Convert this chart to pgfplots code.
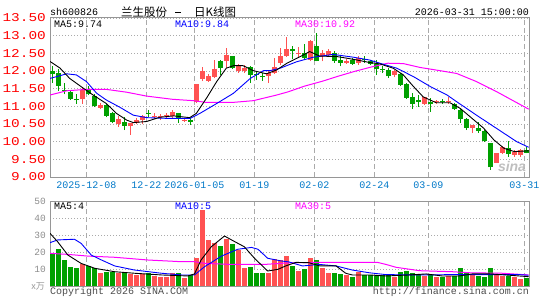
\documentclass[border=0pt]{standalone}
\usepackage{pgfplots}
\pgfplotsset{compat=1.18}
\usepackage{pgfplotstable}
\usepackage{fontspec}
\setmainfont{Liberation Sans}
\newfontfamily\monoW[FakeStretch=1.2]{Liberation Mono}
\newfontfamily\mono{Liberation Mono}
\newfontfamily\cjk{Noto Sans CJK SC}
\definecolor{kred}{RGB}{255,82,82}
\definecolor{kgreen}{RGB}{0,160,0}
\definecolor{mablue}{RGB}{0,0,255}
\definecolor{mamag}{RGB}{255,0,255}
\definecolor{xlab}{RGB}{0,120,200}
\definecolor{gridc}{RGB}{170,170,170}
\definecolor{framec}{RGB}{150,150,150}

\pgfplotstableread{
i o h l c u v
0 12.00 12.14 11.67 11.92 0 19.2
1 11.95 12.05 11.43 11.58 0 21.8
2 11.46 11.67 11.34 11.42 0 15.3
3 11.41 11.44 11.18 11.21 0 11.4
4 11.21 11.34 11.07 11.17 0 10.4
5 11.20 11.51 11.07 11.46 1 12.9
6 11.48 11.58 11.32 11.36 0 12.0
7 11.30 11.36 10.99 11.02 0 10.8
8 10.96 11.09 10.92 11.04 1 7.8
9 11.04 11.07 10.69 10.73 0 8.4
10 10.80 10.85 10.52 10.56 0 8.4
11 10.49 10.74 10.42 10.63 1 7.8
12 10.57 10.69 10.33 10.45 0 8.4
13 10.44 10.54 10.19 10.52 1 7.1
14 10.54 10.68 10.49 10.60 1 6.5
15 10.61 10.75 10.49 10.72 1 7.1
16 10.79 10.89 10.69 10.77 0 7.5
17 10.71 10.81 10.65 10.74 1 5.9
18 10.69 10.79 10.61 10.73 1 5.5
19 10.72 10.82 10.66 10.76 1 5.5
20 10.73 10.91 10.66 10.83 1 7.8
21 10.82 10.82 10.54 10.64 0 7.8
22 10.58 10.66 10.55 10.60 1 4.9
23 10.59 10.66 10.47 10.57 0 6.5
24 11.13 11.62 11.10 11.62 1 16.7
25 11.77 12.10 11.71 12.00 1 44.7
26 11.73 11.92 11.70 11.85 1 27.1
27 11.83 12.32 11.80 12.07 1 25.1
28 12.29 12.32 11.88 12.08 0 23.7
29 12.29 12.65 12.08 12.46 1 27.6
30 12.43 12.43 12.05 12.08 0 24.5
31 12.01 12.19 11.95 12.13 1 21.2
32 12.01 12.18 11.95 12.08 1 10.8
33 12.10 12.13 11.66 11.88 0 11.4
34 11.90 11.99 11.75 11.89 0 7.8
35 11.85 11.95 11.73 11.84 0 7.5
36 11.85 11.99 11.66 11.94 1 7.5
37 11.94 12.37 11.92 12.10 1 15.7
38 12.23 12.65 12.18 12.43 1 15.3
39 12.43 12.95 12.40 12.62 1 17.6
40 12.60 12.72 12.33 12.58 0 12.0
41 12.48 12.68 12.40 12.52 1 9.0
42 12.50 12.75 12.32 12.38 0 10.0
43 12.32 12.88 12.28 12.86 1 16.5
44 12.70 13.08 12.27 12.27 0 15.3
45 12.42 12.60 12.27 12.51 1 10.6
46 12.46 12.63 12.39 12.56 1 7.8
47 12.51 12.56 12.24 12.29 0 7.8
48 12.32 12.42 12.13 12.23 0 7.1
49 12.23 12.35 12.20 12.29 1 6.5
50 12.32 12.37 12.18 12.21 0 5.1
51 12.23 12.42 12.18 12.37 1 8.4
52 12.32 12.42 12.23 12.31 0 6.3
53 12.29 12.32 12.18 12.21 0 6.3
54 12.21 12.30 11.90 12.07 0 6.1
55 12.04 12.13 11.94 12.03 0 6.5
56 12.04 12.08 11.80 11.85 0 6.3
57 11.90 12.04 11.82 12.00 1 5.1
58 11.92 11.94 11.57 11.61 0 8.2
59 11.63 11.66 11.22 11.24 0 8.8
60 11.25 11.37 10.92 11.07 0 7.5
61 11.18 11.32 10.99 11.13 0 7.1
62 11.07 11.25 11.05 11.25 1 5.9
63 11.13 11.23 10.85 11.08 0 6.5
64 11.11 11.18 11.08 11.16 1 5.1
65 11.15 11.21 11.07 11.12 0 5.1
66 11.11 11.27 11.07 11.16 1 5.9
67 11.06 11.09 10.90 10.92 0 5.9
68 10.90 10.95 10.53 10.63 0 10.6
69 10.63 10.66 10.33 10.40 0 8.2
70 10.38 10.47 10.24 10.47 1 6.7
71 10.38 10.56 10.24 10.30 0 5.9
72 10.30 10.33 10.00 10.03 0 5.3
73 9.97 9.97 9.20 9.27 0 10.6
74 9.39 9.69 9.39 9.67 1 7.1
75 9.69 9.88 9.65 9.84 1 5.9
76 9.81 10.02 9.58 9.65 0 5.9
77 9.62 9.77 9.58 9.72 1 5.5
78 9.62 9.79 9.58 9.76 1 4.1
79 9.76 9.84 9.67 9.69 0 4.9
}\kline

\pgfplotsset{
  kbase/.style={
    scale only axis, width=479pt,
    xmin=-0.38, xmax=79.45,
    xtick={5.67,15.67,23.67,33.67,43.67,53.67,62.67,78.67},
    axis line style={draw=framec, line width=1pt},
    major tick length=0pt,
    xmajorgrids, ymajorgrids,
    major x grid style={draw=gridc, line width=0.9pt, dash pattern=on 5pt off 3pt},
    major y grid style={draw=gridc, line width=0.9pt, dash pattern=on 1pt off 2pt},
    /pgf/number format/assume math mode=true,
  },
  wick/.style={draw=none, mark=none, forget plot,
    error bars/.cd, y dir=both, y explicit, error mark=none,
    error bar style={draw=#1, line width=1pt}},
  body/.style={draw=none, mark=none, forget plot,
    error bars/.cd, y dir=both, y explicit, error mark=none,
    error bar style={draw=#1, line width=4.8pt}},
}

\begin{document}
\begin{tikzpicture}[x=1pt,y=1pt]
\path[use as bounding box] (0,0) rectangle (545,300);

% ---------- price pane ----------
\begin{axis}[kbase,
  at={(50pt,123pt)}, anchor=south west, height=159pt,
  ymin=9, ymax=13.5,
  ytick={9,9.5,10,10.5,11,11.5,12,12.5,13,13.5},
  yticklabels={9.00,9.50,10.00,10.50,11.00,11.50,12.00,12.50,13.00,13.50},
  yticklabel style={anchor=east, inner sep=0pt, xshift=-4pt, text=red, font=\monoW\fontsize{12}{12}\selectfont},
  xticklabels={2025-12-08,12-22,2026-01-05,01-19,02-02,02-24,03-09,03-31},
  xticklabel style={anchor=north, inner sep=0pt, yshift=-5pt, text=xlab, font=\mono\fontsize{10}{10}\selectfont},
]
% wicks
\addplot[restrict expr to domain={\thisrow{u}}{1:1}, wick=kred]
  table[x=i, y expr=\thisrow{l}, y error plus expr=\thisrow{h}-\thisrow{l}, y error minus expr=0] {\kline};
\addplot[restrict expr to domain={\thisrow{u}}{0:0}, wick=kgreen]
  table[x=i, y expr=\thisrow{l}, y error plus expr=\thisrow{h}-\thisrow{l}, y error minus expr=0] {\kline};
% bodies
\addplot[restrict expr to domain={\thisrow{u}}{1:1}, body=kred]
  table[x=i, y expr={min(\thisrow{o},\thisrow{c})}, y error plus expr={max(abs(\thisrow{c}-\thisrow{o}),0.03)}, y error minus expr=0] {\kline};
\addplot[restrict expr to domain={\thisrow{u}}{0:0}, body=kgreen]
  table[x=i, y expr={min(\thisrow{o},\thisrow{c})}, y error plus expr={max(abs(\thisrow{c}-\thisrow{o}),0.03)}, y error minus expr=0] {\kline};
% MA30
\addplot[mamag, line width=1pt, mark=none] coordinates {
(-0.38,11.32) (2.4,11.44) (5.7,11.48) (9,11.48) (12.4,11.40) (15.7,11.29) (20,11.20) (23.5,11.16) (25.7,11.11) (30,11.11) (33.5,11.16) (37.4,11.32) (39.3,11.41) (42,11.57) (45,11.71) (47.6,11.85) (50.4,11.99) (53.1,12.11) (55.9,12.22) (58.5,12.21) (61.3,12.10) (64.6,12.01) (67.4,11.93) (70.7,11.70) (74,11.42) (76.8,11.16) (79.4,10.92)};
% MA10
\addplot[mablue, line width=0.9pt, mark=none] coordinates {
(-0.38,11.79) (2.4,11.92) (4,11.89) (5.7,11.70) (7.4,11.37) (9,11.18) (11.3,10.97) (13.5,10.75) (15.7,10.68) (19,10.66) (23,10.66) (24.6,10.80) (27.4,11.08) (30.2,11.37) (33,11.79) (35.2,12.01) (36.3,12.01) (38,12.08) (40.7,12.26) (43.5,12.39) (46.8,12.47) (50.2,12.39) (52.9,12.31) (54.6,12.22) (57.4,12.08) (60.2,11.84) (63,11.56) (65.8,11.32) (67.4,11.13) (70.7,10.75) (74,10.38) (77.4,10.00) (79.4,9.84)};
% MA5
\addplot[black, line width=0.9pt, mark=none] coordinates {
(-0.38,12.27) (1.3,12.08) (2.9,11.79) (5.2,11.51) (6.8,11.32) (9,11.08) (10.7,10.80) (12.4,10.61) (13.5,10.54) (15.7,10.57) (17.9,10.69) (20.2,10.73) (22.9,10.68) (24,10.80) (25.7,11.23) (27.4,11.70) (29,12.08) (30.2,12.15) (31.8,12.15) (33.5,12.01) (35.7,11.92) (37.4,12.03) (39.1,12.22) (41.8,12.45) (42.9,12.55) (44.6,12.42) (47.4,12.41) (50.2,12.33) (52.9,12.24) (54.6,12.20) (56.8,12.08) (58.5,11.89) (60.2,11.56) (61.8,11.27) (64,11.10) (66.3,11.10) (68,10.94) (69.6,10.71) (71.9,10.38) (73.6,10.05) (75.3,9.81) (77,9.72) (79.4,9.74)};
\end{axis}

% ---------- volume pane ----------
\begin{axis}[kbase,
  at={(50pt,14pt)}, anchor=south west, height=85pt,
  ymin=0, ymax=50,
  ytick={0,10,20,30,40,50},
  yticklabels={,10,20,30,40,50},
  yticklabel style={anchor=east, inner sep=0pt, xshift=-4pt, text=black!45, font=\mono\fontsize{9.5}{9.5}\selectfont},
  xticklabels={},
]
\addplot[ycomb, draw=kred, line width=4.8pt, mark=none, restrict expr to domain={\thisrow{u}}{1:1}]
  table[x=i, y=v] {\kline};
\addplot[ycomb, draw=kgreen, line width=4.8pt, mark=none, restrict expr to domain={\thisrow{u}}{0:0}]
  table[x=i, y=v] {\kline};
% MA30
\addplot[mamag, line width=1pt, mark=none] coordinates {
(-0.38,19.2) (2.6,18.6) (5.9,17.6) (10.4,16.9) (15.9,15.3) (21.5,14.3) (23.7,14.3) (25.4,13.3) (29.8,12.7) (35.4,12.7) (39.4,13.6) (44.5,13.9) (54.2,13.9) (55.6,12.7) (57.3,11.0) (61.2,9.0) (66.7,8.4) (69.5,7.8) (75,7.5) (79.4,6.5)};
% MA10
\addplot[mablue, line width=0.9pt, mark=none] coordinates {
(-0.38,25.5) (0.9,27.1) (3.7,27.5) (4.8,25.1) (6.5,18.2) (8.2,15.3) (10.4,11.8) (13.7,9.4) (18.2,7.5) (21.5,6.5) (23.7,6.5) (25.4,11.4) (28.2,17.6) (30.9,21.6) (33.2,22.7) (34.3,21.6) (35.9,16.3) (38.2,14.7) (39.4,14.2) (41.7,11.8) (44.5,12.7) (47.3,11.8) (50,9.4) (52.8,7.8) (55.6,6.7) (61.2,6.5) (66.7,6.7) (72.3,6.7) (77.8,6.7) (79.4,6.3)};
% MA5
\addplot[black, line width=0.9pt, mark=none] coordinates {
(-0.38,31) (0.9,26) (2.6,18.2) (4.8,13.3) (7.1,10.4) (10.4,8.4) (13.7,7.5) (18.2,6.5) (22.6,5.9) (23.7,7.1) (24.8,15.3) (26.5,23.1) (28.7,29.4) (30.4,26.1) (32,23.1) (33.7,16.3) (35.9,8.8) (37.6,9.8) (38.9,11.8) (40.6,13.9) (42.8,13.7) (44.6,11.8) (47.3,11.8) (48.9,7.5) (50,6.5) (52.8,6.5) (55.6,5.9) (59.5,6.5) (62.3,7.1) (65,5.9) (67.8,5.9) (70,7.1) (72.9,7.1) (75.6,6.5) (77.8,5.9) (79.4,5.5)};
\end{axis}

% ---------- texts ----------
\node[anchor=west, inner sep=0] at (50,288) {\mono\fontsize{10}{10}\selectfont sh600826};
\node[anchor=west, inner sep=0] at (121,287.5) {\cjk\fontsize{11.5}{11.5}\selectfont 兰生股份};
\draw[black, line width=0.8pt] (175,287.5) -- (180.5,287.5);
\node[anchor=west, inner sep=0] at (194,287.5) {\cjk\fontsize{11.5}{11.5}\selectfont 日K线图};
\node[anchor=east, inner sep=0] at (529,288) {\mono\fontsize{10}{10}\selectfont 2026-03-31 15:00:00};

\node[anchor=west, inner sep=0] at (54,276) {\mono\fontsize{10}{10}\selectfont MA5:9.74};
\node[anchor=west, inner sep=0, text=mablue] at (175,276) {\mono\fontsize{10}{10}\selectfont MA10:9.84};
\node[anchor=west, inner sep=0, text=mamag] at (295,276) {\mono\fontsize{10}{10}\selectfont MA30:10.92};

\node[anchor=west, inner sep=0] at (54,94) {\mono\fontsize{10}{10}\selectfont MA5:4};
\node[anchor=west, inner sep=0, text=mablue] at (175,94) {\mono\fontsize{10}{10}\selectfont MA10:5};
\node[anchor=west, inner sep=0, text=mamag] at (295,94) {\mono\fontsize{10}{10}\selectfont MA30:5};

\node[anchor=east, inner sep=0, text=black!40] at (45,14) {\cjk\fontsize{9}{9}\selectfont x万};
\node[anchor=west, inner sep=0, text=black!70] at (50,8) {\mono\fontsize{10}{10}\selectfont Copyright 2026 SINA.COM};
\node[anchor=east, inner sep=0, text=black!70] at (529,8) {\mono\fontsize{10}{10}\selectfont http://finance.sina.com.cn};

\node[inner sep=0, text=black!25] at (512,134) {\fontsize{14}{14}\selectfont\bfseries\itshape sina};
\end{tikzpicture}
\end{document}
